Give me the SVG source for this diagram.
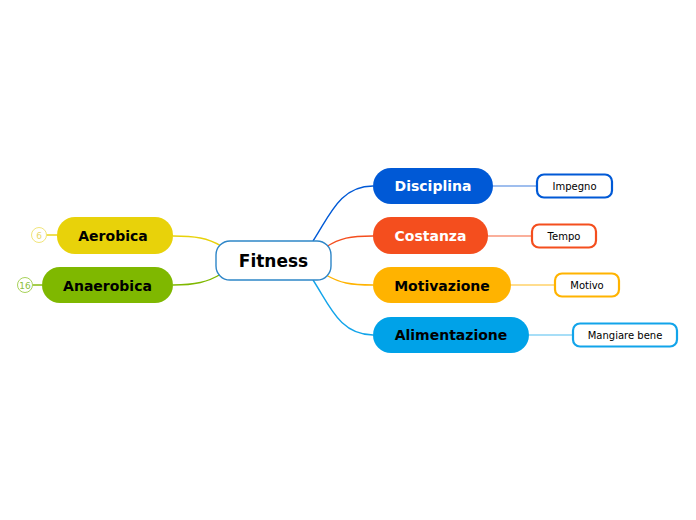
<svg xmlns="http://www.w3.org/2000/svg" width="696" height="520" viewBox="0 0 696 520">
<style>
text{font-family:"DejaVu Sans","Verdana",sans-serif;text-anchor:middle;dominant-baseline:central}
.main{font-weight:bold;font-size:14px}
.sub{font-size:10px;fill:#000}
.subbox{fill:#fff;stroke-width:2.2}
.conn{fill:none;stroke-width:1.4}
.sconn{fill:none;stroke-width:1.4}
</style>
<rect width="696" height="520" fill="#fff"/>
<g id="connectors">
<path class="conn" stroke="#0059d6" d="M313,241 C330,215 340,186 373,186"/>
<path class="conn" stroke="#f44e1e" d="M326,247 C340,238 350,236 373,236"/>
<path class="conn" stroke="#ffb300" d="M326,275 C340,283 350,285 373,285"/>
<path class="conn" stroke="#12a4ea" d="M313,280 C330,306 340,335 373,335"/>
<path class="conn" stroke="#e8d20a" d="M221,246 C208,238 195,236 173,236"/>
<path class="conn" stroke="#7fb800" d="M221,274 C208,282 195,285 173,285"/>
<path class="sconn" stroke="#7fa9e8" d="M493,186 H537"/>
<path class="sconn" stroke="#f8957a" d="M488,236 H532"/>
<path class="sconn" stroke="#ffd269" d="M511,285 H555"/>
<path class="sconn" stroke="#8ad3f5" d="M529,335 H573"/>
<path class="sconn" stroke="#e8d20a" d="M46,235 H57"/>
<path class="sconn" stroke="#7fb800" d="M32,285 H42"/>
</g>
<g id="fitness">
<rect x="216" y="241" width="115" height="39" rx="14" fill="#fff" stroke="#2e86c8" stroke-width="1.4"/>
<text x="273.5" y="261" style="font-weight:bold;font-size:17px">Fitness</text>
</g>
<g id="disciplina">
<rect x="373" y="168" width="120" height="36" rx="18" fill="#0059d6"/>
<text class="main" x="433" y="186" fill="#fff">Disciplina</text>
</g>
<g id="costanza">
<rect x="373" y="217" width="115" height="37" rx="18" fill="#f44e1e"/>
<text class="main" x="430.5" y="236" fill="#fff">Costanza</text>
</g>
<g id="motivazione">
<rect x="373" y="267" width="138" height="36" rx="18" fill="#ffb300"/>
<text class="main" x="442" y="285.5" fill="#000">Motivazione</text>
</g>
<g id="alimentazione">
<rect x="373" y="317" width="156" height="36" rx="18" fill="#00a2e8"/>
<text class="main" x="451" y="335" fill="#000">Alimentazione</text>
</g>
<g id="aerobica">
<rect x="57" y="217" width="116" height="37" rx="18" fill="#e8d20a"/>
<text class="main" x="113" y="236" fill="#000">Aerobica</text>
</g>
<g id="anaerobica">
<rect x="42" y="267" width="131" height="36" rx="18" fill="#7fb800"/>
<text class="main" x="107.5" y="286" fill="#000">Anaerobica</text>
</g>
<g id="impegno">
<rect class="subbox" x="537" y="174.5" width="75" height="23" rx="7" stroke="#0059d6"/>
<text class="sub" x="574.5" y="186">Impegno</text>
</g>
<g id="tempo">
<rect class="subbox" x="532" y="224.5" width="64" height="23" rx="7" stroke="#f44e1e"/>
<text class="sub" x="564" y="236">Tempo</text>
</g>
<g id="motivo">
<rect class="subbox" x="555" y="273.5" width="64" height="23" rx="7" stroke="#ffb300"/>
<text class="sub" x="587" y="285">Motivo</text>
</g>
<g id="mangiare">
<rect class="subbox" x="573" y="323.5" width="104" height="23" rx="7" stroke="#12a4ea"/>
<text class="sub" x="625" y="335">Mangiare bene</text>
</g>
<g id="count6">
<circle cx="39" cy="235" r="7.5" fill="#fff" stroke="#f1e57a" stroke-width="1"/>
<text x="39" y="235.5" style="font-size:9px;fill:#e8d86a">6</text>
</g>
<g id="count16">
<circle cx="25" cy="285" r="7.5" fill="#fff" stroke="#a8d25a" stroke-width="1"/>
<text x="25" y="285.5" style="font-size:9px;fill:#8cc040">16</text>
</g>
</svg>
